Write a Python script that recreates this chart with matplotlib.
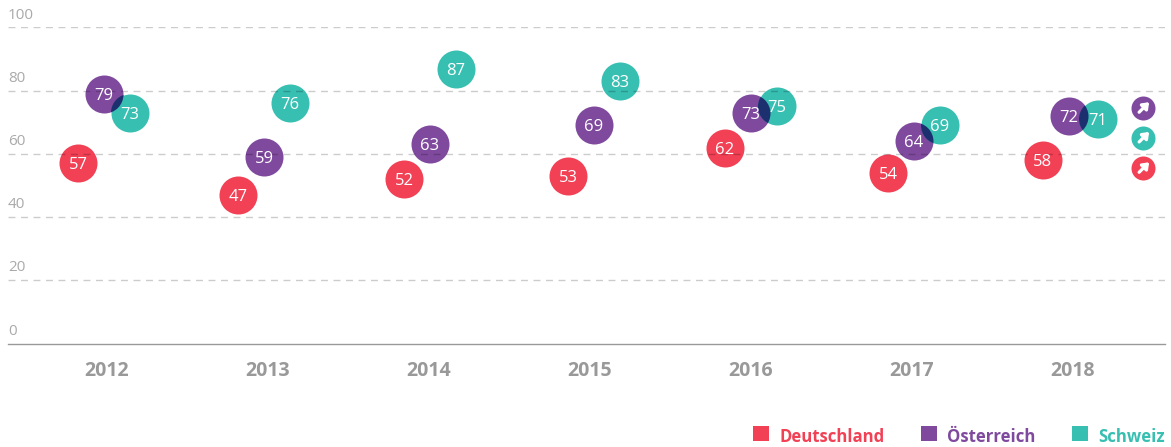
#!/usr/bin/env python

import numpy as np
from matplotlib import pyplot as plt
from matplotlib.patches import Circle, Rectangle
from matplotlib.transforms import offset_copy

years = [2012, 2013, 2014, 2015, 2016, 2017, 2018]
deutschland = [57, 47, 52, 53, 62, 54, 58]
oesterreich = [79, 59, 63, 69, 73, 64, 72]
schweiz = [73, 76, 87, 83, 75, 69, 71]
y_ticks = [0, 20, 40, 60, 80, 100]
trend_levels = [74.4, 65, 55.4]

W, H = 1171, 447
RED, PURPLE, TEAL = '#f24055', '#7f4a9e', '#37bfb1'
NAVY = '#1c2f6e'

plt.rcParams['font.family'] = ['Open Sans', 'DejaVu Sans']

fig = plt.figure(figsize=(W / 100, H / 100), dpi=100)
ax = fig.add_axes([8 / W, (H - 343.6) / H, (1165 - 8) / W, 316.2 / H])
ax.set_xlim((8 - 107) / 161, (1165 - 107) / 161)
ax.set_ylim(0, 100)

# each year's group sits a few pixels off its label
shift = np.array([-3, -4, 1, 4, 0, 2, -4]) / 161
dodge = 26 / 161
xs = np.arange(len(years)) + shift
xs_ch = xs + dodge + np.array([0, 0, 0, 0, 0, 0, 3]) / 161
R = 19  # bubble radius in px
size = (2 * R * 0.72) ** 2

groups = [(xs - dodge, deutschland, RED), (xs, oesterreich, PURPLE), (xs_ch, schweiz, TEAL)]
for x, vals, col in groups:
    ax.scatter(x, vals, s=size, color=col, linewidths=0, zorder=2, clip_on=False)
    for xi, v in zip(x, vals):
        ax.text(xi, v, str(v), color='white', fontsize=12, ha='center', va='center_baseline', zorder=5)

# darker lens where two bubbles overlap
for xa, xb, a, b in zip(xs, xs_ch, oesterreich, schweiz):
    pa = ax.transData.transform((xa, a))
    pb = ax.transData.transform((xb, b))
    if np.hypot(*(pa - pb)) < 2 * R:
        lens = ax.scatter([xa], [a], s=size, color=NAVY, linewidths=0, zorder=3)
        lens.set_clip_path(Circle(pb, R, transform=None))

# dashed grid, semi transparent so it shows faintly on the bubbles
for t in y_ticks[1:]:
    ax.axhline(t, color='black', alpha=0.2, lw=1, dashes=(5, 4), zorder=4)

for t in y_ticks:
    ax.annotate(str(t), (0, t), xycoords=ax.get_yaxis_transform(), xytext=(0, 3.5), textcoords='offset points',
                color='#aaaaaa', fontsize=11, ha='left', va='bottom')

# trend badges
tx = (1143 - 107) / 161
for level, col in zip(trend_levels, [PURPLE, TEAL, RED]):
    ax.scatter([tx], [level], s=(24 * 0.72) ** 2, color=col, linewidths=0, zorder=2)
    tip = offset_copy(ax.transData, fig=fig, x=4.4, y=4.4, units='points')
    tail = offset_copy(ax.transData, fig=fig, x=-2.8, y=-2.8, units='points')
    ax.annotate('', xy=(tx, level), xycoords=tip, xytext=(tx, level), textcoords=tail,
                arrowprops=dict(arrowstyle='-|>,head_length=0.34,head_width=0.26', color='white', lw=2.3,
                                shrinkA=0, shrinkB=0), zorder=5)

ax.set_xticks(range(len(years)), [str(y) for y in years])
ax.set_yticks([])
ax.tick_params(axis='x', length=0, pad=12.5, labelsize=14, labelcolor='#999999')
for lab in ax.get_xticklabels():
    lab.set_fontweight('bold')
for s in ['top', 'left', 'right']:
    ax.spines[s].set_visible(False)
ax.spines['bottom'].set_color('#999999')
ax.spines['bottom'].set_linewidth(1)

# legend placed by hand, bottom right
legend = [('Deutschland', RED, 753), ('Österreich', PURPLE, 921), ('Schweiz', TEAL, 1072)]
for name, col, px in legend:
    fig.add_artist(Rectangle((px / W, (H - 441) / H), 16 / W, 15 / H, color=col, lw=0, transform=fig.transFigure))
    fig.text((px + 26) / W, (H - 442) / H, name, color=col, fontsize=12.1, fontweight='bold', va='baseline')

plt.savefig('out.png', dpi=100)
